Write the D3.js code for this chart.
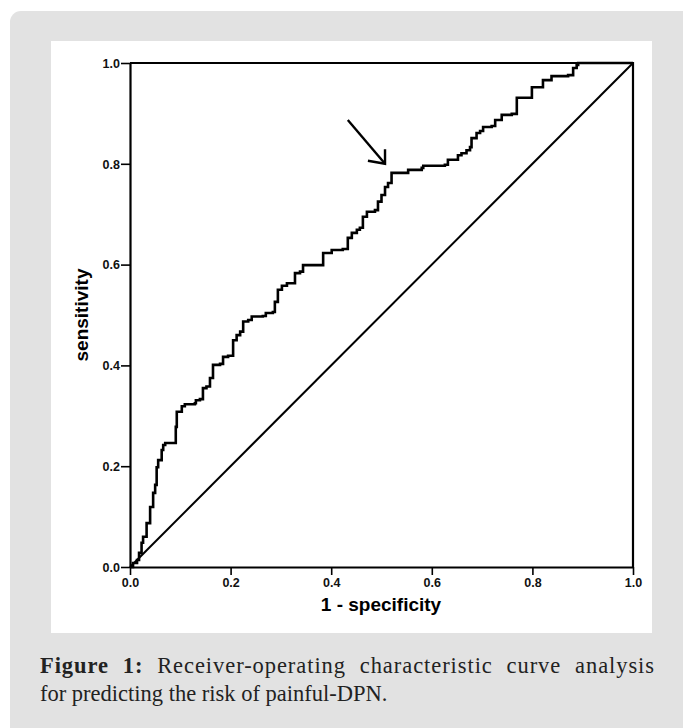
<!DOCTYPE html>
<html>
<head>
<meta charset="utf-8">
<script src="https://cdn.jsdelivr.net/npm/d3@7/dist/d3.min.js"></script>
<style>
html,body{margin:0;padding:0;background:#fff;}
svg{display:block;}
</style>
</head>
<body>
<svg id="chart" width="683" height="728"></svg>
<script>
// ROC curve vertices (1 - specificity, sensitivity)
const fpr = [0,0.006,0.014,0.018,0.023,0.026,0.033,0.040,0.046,0.050,0.053,0.056,0.063,0.066,0.070,0.089,0.091,0.093,0.103,0.103,0.109,0.129,0.131,0.139,0.145,0.152,0.159,0.165,0.179,0.185,0.195,0.205,0.212,0.219,0.225,0.235,0.242,0.264,0.270,0.284,0.288,0.294,0.302,0.312,0.324,0.328,0.338,0.344,0.378,0.384,0.401,0.423,0.433,0.441,0.451,0.457,0.463,0.471,0.487,0.493,0.500,0.507,0.513,0.520,0.550,0.553,0.580,0.583,0.626,0.632,0.652,0.659,0.669,0.676,0.679,0.689,0.696,0.702,0.719,0.726,0.739,0.759,0.769,0.789,0.799,0.819,0.821,0.838,0.871,0.881,0.888,0.891,1.0];
const tpr = [0,0.008,0.014,0.028,0.048,0.060,0.087,0.119,0.147,0.163,0.198,0.212,0.232,0.242,0.246,0.246,0.278,0.308,0.312,0.319,0.323,0.325,0.331,0.333,0.355,0.358,0.375,0.401,0.403,0.417,0.419,0.450,0.460,0.467,0.487,0.490,0.497,0.498,0.504,0.506,0.526,0.550,0.558,0.563,0.563,0.583,0.586,0.599,0.599,0.623,0.629,0.631,0.653,0.663,0.669,0.673,0.695,0.705,0.708,0.725,0.738,0.754,0.762,0.782,0.782,0.788,0.792,0.796,0.798,0.808,0.817,0.821,0.827,0.833,0.851,0.861,0.865,0.873,0.875,0.887,0.897,0.899,0.931,0.931,0.952,0.952,0.966,0.974,0.976,0.990,0.996,1.0,1.0];
const refLine = [[0,0],[1,1]];
const tickValues = [0,0.2,0.4,0.6,0.8,1.0];
const arrowFrom = [0.433,0.887];
const arrowTo = [0.507,0.800];
const arrowBarbs = [[0.473,0.806],[0.507,0.829]];
const xTitle = "1 - specificity";
const yTitle = "sensitivity";
const captionBold = "Figure 1:";
const captionLine1 = " Receiver-operating characteristic curve analysis";
const captionLine2 = "for predicting the risk of painful-DPN.";

const svg = d3.select("#chart");

// background card
svg.append("rect").attr("x",10).attr("y",11).attr("width",700).attr("height",740)
  .attr("rx",11).attr("fill","#e2e2e2");
svg.append("rect").attr("x",51).attr("y",41).attr("width",601).attr("height",592)
  .attr("fill","#ffffff");

const x = d3.scaleLinear().domain([0,1]).range([130,633]);
const y = d3.scaleLinear().domain([0,1]).range([567,63]);

const g = svg.append("g");

// frame (top and right)
g.append("path")
  .attr("d", `M${x(0)},${y(1)}H${x(1)}V${y(0)}`)
  .attr("fill","none").attr("stroke","#000").attr("stroke-width",2.2);

const axStyle = sel => {
  sel.selectAll("path").attr("stroke","#000").attr("stroke-width",2.2);
  sel.selectAll("line").attr("stroke","#000").attr("stroke-width",1.6);
  sel.selectAll("text").attr("font-family","Liberation Sans, Arial, sans-serif")
    .attr("font-weight","bold").attr("font-size","12.5px").attr("fill","#111");
};

g.append("g").attr("transform",`translate(0,${y(0)})`)
  .call(d3.axisBottom(x).tickValues(tickValues).tickFormat(d3.format(".1f")).tickSize(8).tickSizeOuter(0).tickPadding(3))
  .call(axStyle);
g.append("g").attr("transform",`translate(${x(0)},0)`)
  .call(d3.axisLeft(y).tickValues(tickValues).tickFormat(d3.format(".1f")).tickSize(9).tickSizeOuter(0).tickPadding(1))
  .call(axStyle)
  .selectAll("text").attr("dy","0.35em");

// reference diagonal
g.append("path").datum(refLine)
  .attr("d", d3.line().x(d=>x(d[0])).y(d=>y(d[1])))
  .attr("fill","none").attr("stroke","#000").attr("stroke-width",2);

// ROC curve
const pts = fpr.map((f,i)=>[f,tpr[i]]);
g.append("path").datum(pts)
  .attr("d", d3.line().x(d=>x(d[0])).y(d=>y(d[1])).curve(d3.curveStepAfter))
  .attr("fill","none").attr("stroke","#000").attr("stroke-width",2.6)
  .attr("stroke-linejoin","miter");

// arrow
g.append("path").datum([arrowFrom,arrowTo])
  .attr("d", d3.line().x(d=>x(d[0])).y(d=>y(d[1])))
  .attr("stroke","#000").attr("stroke-width",2.4).attr("fill","none");
g.append("path").datum([arrowBarbs[0],arrowTo,arrowBarbs[1]])
  .attr("d", d3.line().x(d=>x(d[0])).y(d=>y(d[1])))
  .attr("stroke","#000").attr("stroke-width",2.4).attr("fill","none");

// axis titles
svg.append("text").attr("x",381).attr("y",611).attr("text-anchor","middle")
  .attr("font-family","Liberation Sans, Arial, sans-serif").attr("font-weight","bold")
  .attr("font-size","19px").text(xTitle);
svg.append("text").attr("transform","translate(88,315) rotate(-90)").attr("text-anchor","middle")
  .attr("font-family","Liberation Sans, Arial, sans-serif").attr("font-weight","bold")
  .attr("font-size","19px").text(yTitle);

// caption (first line justified to the card width)
const capFont = "Liberation Serif, serif";
const cap1 = svg.append("text").attr("x",40).attr("y",673)
  .attr("font-family",capFont).attr("font-size","22.5px").attr("fill","#222");
cap1.append("tspan").attr("font-weight","bold").text(captionBold);
cap1.append("tspan").text(captionLine1);
const full1 = captionBold + captionLine1;
const nat = cap1.node().getComputedTextLength();
const extra = Math.max(0, 615 - nat);
const nSpaces = full1.split(" ").length - 1;
cap1.attr("letter-spacing", extra*0.6/full1.length)
    .attr("word-spacing", extra*0.4/nSpaces);
svg.append("text").attr("x",40).attr("y",701)
  .attr("font-family",capFont).attr("font-size","22.5px").attr("fill","#222")
  .text(captionLine2);
</script>
</body>
</html>
